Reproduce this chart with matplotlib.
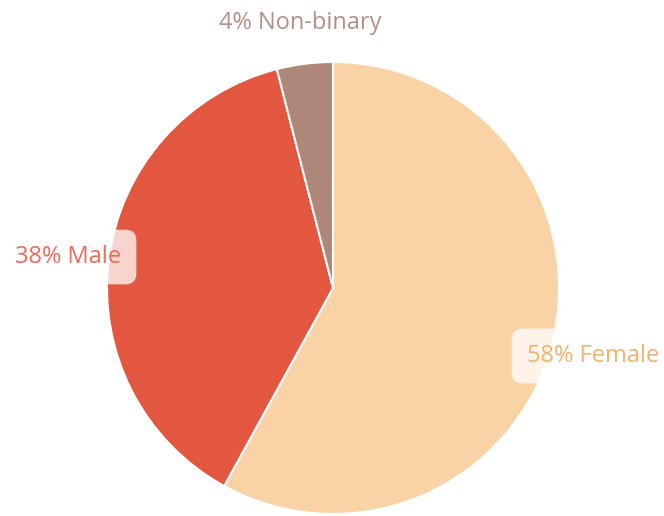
import matplotlib.pyplot as plt

labels = ["Female", "Male", "Non-binary"]
shares = [58, 38, 4]
colors = ["#F9D3A6", "#E35640", "#AE8778"]
label_colors = ["#F2B26C", "#EE6A5A", "#B39085"]

plt.rcParams['font.family'] = ['Open Sans', 'DejaVu Sans']

fig = plt.figure(figsize=(6.64, 5.16), dpi=100)
ax = fig.add_axes([0, 0, 1, 1])

ax.pie(shares, colors=colors, startangle=90, counterclock=False,
       center=(333, 228), radius=226, frame=True,
       wedgeprops=dict(edgecolor='white', linewidth=1.5))
ax.set_xlim(0, 664)
ax.set_ylim(0, 516)
ax.set_aspect('equal')
ax.axis('off')

box = dict(boxstyle='round,pad=0.65,rounding_size=0.45', fc='white', ec='none', alpha=0.75)

# label positions (pixels, y from bottom)
ax.text(527, 516 - 356, f"{shares[0]}% {labels[0]}", color=label_colors[0],
        fontsize=17, ha='left', va='center', bbox=box)
ax.text(121, 516 - 257, f"{shares[1]}% {labels[1]}", color=label_colors[1],
        fontsize=17, ha='right', va='center', bbox=box)
ax.text(300, 516 - 23, f"{shares[2]}% {labels[2]}", color=label_colors[2],
        fontsize=17, ha='center', va='center')

fig.savefig("out.png", dpi=100)
